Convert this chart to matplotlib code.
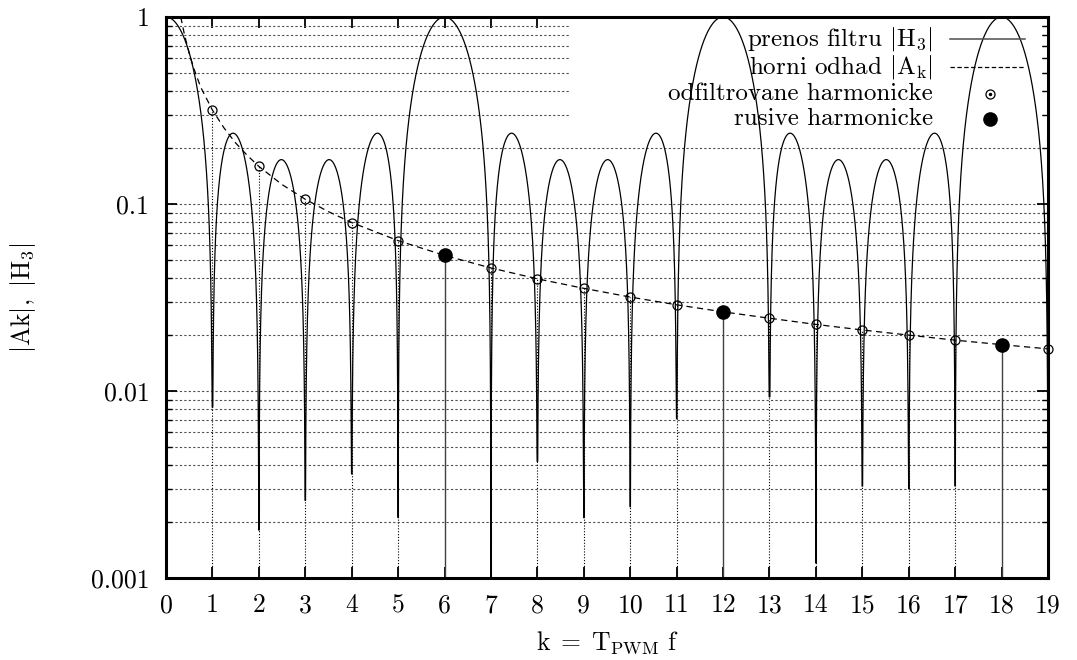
import numpy as np
import matplotlib
matplotlib.use('Agg')
import matplotlib.pyplot as plt
from matplotlib.patches import Rectangle

plt.rcParams['font.family'] = 'cmr10'
plt.rcParams['mathtext.fontset'] = 'cm'
plt.rcParams['axes.formatter.use_mathtext'] = True
plt.rcParams['font.size'] = 18.5

# harmonics k = 1..19 and their amplitude bound |Ak|
harm_k = list(range(1, 20))
harm_a = [0.318, 0.159, 0.106, 0.0796, 0.0637, 0.0531, 0.0455, 0.0398, 0.0354, 0.0318,
          0.0289, 0.0265, 0.0245, 0.0227, 0.0212, 0.0199, 0.0187, 0.0177, 0.0168]
# harmonics which pass through the filter
rusive_k = [6, 12, 18]

# dashed bound curve
bound_k = [0.318, 0.4, 0.5, 0.6, 0.75, 1, 1.25, 1.5, 1.75, 2, 2.5, 3, 3.5, 4, 5, 6, 7, 8, 9, 10,
           11, 12, 13, 14, 15, 16, 17, 18, 19]
bound_a = [1.0, 0.80, 0.64, 0.53, 0.42, 0.318, 0.255, 0.212, 0.182, 0.159, 0.127, 0.106, 0.091,
           0.0796, 0.0637, 0.0531, 0.0455, 0.0398, 0.0354, 0.0318, 0.0289, 0.0265, 0.0245,
           0.0227, 0.0212, 0.0199, 0.0187, 0.0177, 0.0168]

# filter |H3|: moving average over N periods, zeros at k not divisible by N
N = 6
# depth of each notch as drawn in the chart (k = 0..19)
notch_floor = [1, 0.0082, 0.0018, 0.0026, 0.0036, 0.0021, 1, 0.0001, 0.0042, 0.0021,
               0.0024, 0.0071, 1, 0.0093, 0.0012, 0.0031, 0.0030, 0.0031, 1, 0.003]

k = np.linspace(0, 19, 19001)
s = np.sin(np.pi * k / N)
with np.errstate(divide='ignore', invalid='ignore'):
    h3 = np.abs(np.sin(np.pi * k) / (N * s))
h3[np.abs(s) < 1e-9] = 1.0
floor = np.array(notch_floor)[np.rint(k).astype(int)]
h3 = np.maximum(h3, np.minimum(floor, 1e-2))

fig = plt.figure(figsize=(10.77, 6.6), dpi=100)
ax = fig.add_axes([166 / 1077, 1 - 578 / 660, 882 / 1077, 561 / 660])

ax.set_yscale('log')
ax.set_xlim(0, 19)
ax.set_ylim(0.001, 1)

ax.set_axisbelow(True)
ax.yaxis.grid(True, which='both', linestyle=(0, (2, 2)), linewidth=0.8, color='0.3')
ax.xaxis.grid(False)

# key background hides the grid only
ax.add_patch(Rectangle((0.458, 0.795), 0.533, 0.21, transform=ax.transAxes,
                       facecolor='white', edgecolor='none', zorder=1))

ax.plot(k, h3, color='black', lw=0.9, zorder=3)
ax.plot(bound_k, bound_a, color='black', lw=0.9, linestyle=(0, (5, 3.5)), zorder=3)

odf_k = [x for x in harm_k if x not in rusive_k]
odf_a = [a for x, a in zip(harm_k, harm_a) if x not in rusive_k]
rus_a = [a for x, a in zip(harm_k, harm_a) if x in rusive_k]

ax.vlines(odf_k, 0.001, odf_a, colors='black', linestyles=(0, (1, 1.6)), lw=0.8, zorder=2)
ax.vlines(rusive_k, 0.001, rus_a, colors='0.25', lw=1.0, zorder=2)
ax.plot(odf_k, odf_a, 'o', ms=6.5, mfc='none', mec='black', mew=0.9, zorder=4, clip_on=False)
ax.plot(rusive_k, rus_a, 'o', ms=9.5, color='black', zorder=4)

ax.set_xticks(range(0, 20))
ax.set_xticklabels([str(i) for i in range(0, 20)])
ax.set_yticks([0.001, 0.01, 0.1, 1])
ax.set_yticklabels(['0.001', '0.01', '0.1', '1'])
ax.tick_params(which='both', direction='in', top=True, right=True)
ax.tick_params(which='major', length=8, width=1.3)
ax.tick_params(which='minor', length=4.5, width=1.0)
ax.tick_params(axis='x', pad=11)
ax.tick_params(axis='y', pad=12)
for sp in ax.spines.values():
    sp.set_linewidth(2.2)

ax.set_xlabel(r'$\mathrm{k}\;=\;\mathrm{T}_{\mathrm{PWM}}\ \mathrm{f}$')
ax.xaxis.set_label_coords(0.5, -0.092)
ax.set_ylabel(r'$|\mathrm{Ak}|,\ |\mathrm{H}_3|$')
ax.yaxis.set_label_coords(-0.145, 0.5)

# key drawn by hand: text right-aligned, sample on the right
labels = [r'prenos filtru $|\mathrm{H}_3|$', r'horni odhad $|\mathrm{A}_\mathrm{k}|$',
          'odfiltrovane harmonicke', 'rusive harmonicke']
rows = [0.960, 0.911, 0.862, 0.818]
for lab, yy in zip(labels, rows):
    ax.text(0.8696, yy, lab, transform=ax.transAxes, ha='right', va='center', zorder=5,
            fontsize=18)
ax.plot([0.889, 0.974], [rows[0]] * 2, transform=ax.transAxes, color='0.3', lw=1.1, zorder=5)
ax.plot([0.889, 0.974], [rows[1]] * 2, transform=ax.transAxes, color='black', lw=0.9,
        linestyle=(0, (3.5, 2)), zorder=5)
ax.plot([0.934], [rows[2]], 'o', transform=ax.transAxes, ms=6.5, mfc='none', mec='black',
        mew=0.9, zorder=5)
ax.plot([0.934], [rows[2]], 'o', transform=ax.transAxes, ms=1.5, color='black', zorder=5)
ax.plot([0.934], [rows[3]], 'o', transform=ax.transAxes, ms=9.5, color='black', zorder=5)

fig.savefig('out.png', dpi=100)
